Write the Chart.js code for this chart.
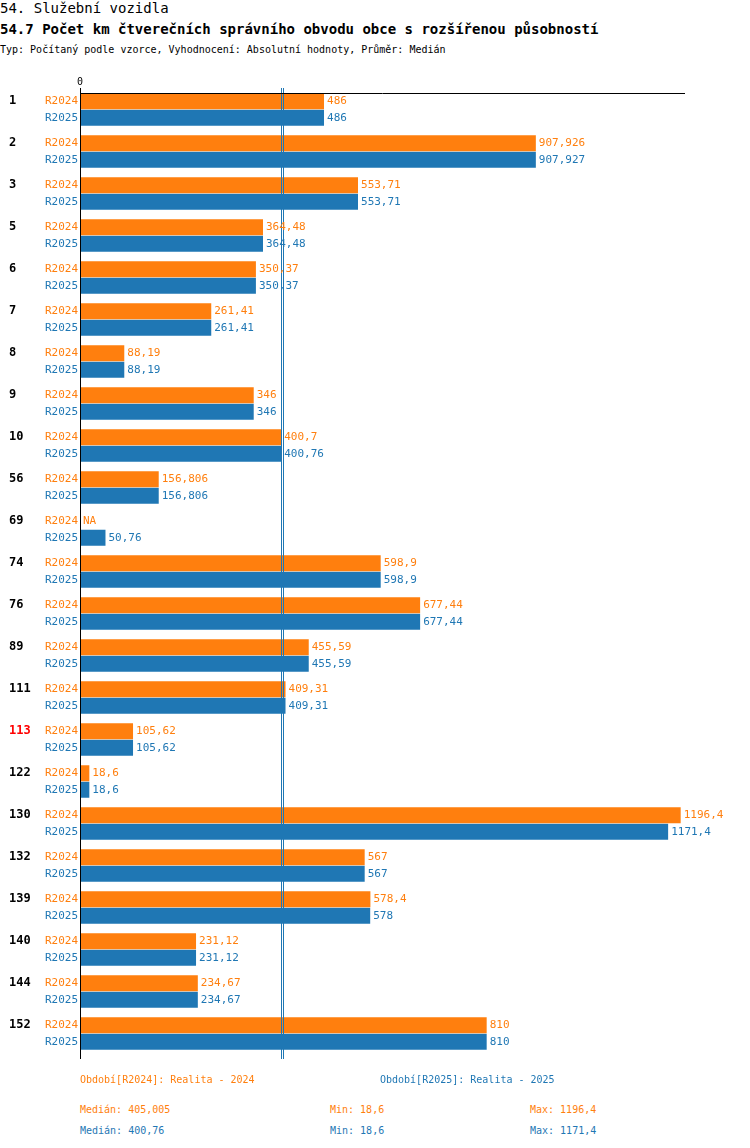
<!DOCTYPE html>
<html><head><meta charset="utf-8">
<script src="https://cdn.jsdelivr.net/npm/chart.js@4/dist/chart.umd.min.js"></script>
<style>
body{margin:0;width:750px;height:1148px;position:relative;font-family:"DejaVu Sans Mono",monospace;background:#fff}
.t{position:absolute;white-space:nowrap}
#wrap{position:absolute;left:0;top:75px;width:750px;height:1000px}
.o{color:#ff7f0e}.b{color:#1f77b4}
</style></head><body>
<div class="t" style="left:0;top:0;font-size:14px">54. Služební vozidla</div>
<div class="t" style="left:0;top:21px;font-size:14px;font-weight:bold">54.7 Počet km čtverečních správního obvodu obce s rozšířenou působností</div>
<div class="t" style="left:0;top:44px;font-size:10px">Typ: Počítaný podle vzorce, Vyhodnocení: Absolutní hodnoty, Průměr: Medián</div>
<div id="wrap"><canvas id="c"></canvas></div>
<div class="t o" style="left:80px;top:1074px;font-size:10px">Období[R2024]: Realita - 2024</div>
<div class="t b" style="left:380px;top:1074px;font-size:10px">Období[R2025]: Realita - 2025</div>
<div class="t o" style="left:80px;top:1104px;font-size:10px">Medián: 405,005</div>
<div class="t o" style="left:330px;top:1104px;font-size:10px">Min: 18,6</div>
<div class="t o" style="left:530px;top:1104px;font-size:10px">Max: 1196,4</div>
<div class="t b" style="left:80px;top:1125px;font-size:10px">Medián: 400,76</div>
<div class="t b" style="left:330px;top:1125px;font-size:10px">Min: 18,6</div>
<div class="t b" style="left:530px;top:1125px;font-size:10px">Max: 1171,4</div>
<script>
const groups = ["1","2","3","5","6","7","8","9","10","56","69","74","76","89","111","113","122","130","132","139","140","144","152"];
const r2024 = [486,907.926,553.71,364.48,350.37,261.41,88.19,346,400.7,156.806,null,598.9,677.44,455.59,409.31,105.62,18.6,1196.4,567,578.4,231.12,234.67,810];
const r2025 = [486,907.927,553.71,364.48,350.37,261.41,88.19,346,400.76,156.806,50.76,598.9,677.44,455.59,409.31,105.62,18.6,1171.4,567,578,231.12,234.67,810];
const medians = [405.005, 400.76];
const highlight = "113";
const ORANGE = "#ff7f0e", BLUE = "#1f77b4";
const FONT = "\"DejaVu Sans Mono\", monospace";

function fmt(v) {
    if (v === null) return "NA";
    return String(v).replace(".", ",");
}

const deco = {
    id: "deco",
    afterDatasetsDraw(chart) {
        const ctx = chart.ctx, x = chart.scales.x, a = chart.chartArea;
        const top = a.top + 4.5, bottom = a.bottom + 4.5;
        ctx.save();
        // median lines
        ctx.strokeStyle = BLUE; ctx.lineWidth = 1;
        for (const m of medians) {
            const px = Math.round(x.getPixelForValue(m)) + 0.5;
            ctx.beginPath(); ctx.moveTo(px, top - 5); ctx.lineTo(px, bottom); ctx.stroke();
        }
        // axes
        ctx.strokeStyle = "#000";
        ctx.beginPath(); ctx.moveTo(a.left, top + 0.5); ctx.lineTo(a.right, top + 0.5); ctx.stroke();
        ctx.beginPath(); ctx.moveTo(a.left + 0.5, top - 5); ctx.lineTo(a.left + 0.5, bottom); ctx.stroke();
        ctx.fillStyle = "#000"; ctx.font = "10px " + FONT;
        ctx.textAlign = "center"; ctx.textBaseline = "bottom";
        ctx.fillText("0", a.left, top - 6);
        // labels
        const sets = [r2024, r2025], cols = [ORANGE, BLUE], names = ["R2024", "R2025"];
        ctx.textBaseline = "middle";
        for (let d = 0; d < 2; d++) {
            const meta = chart.getDatasetMeta(d);
            meta.data.forEach((bar, i) => {
                const v = sets[d][i];
                ctx.fillStyle = cols[d]; ctx.font = "11px " + FONT;
                ctx.textAlign = "right";
                ctx.fillText(names[d], 78, bar.y);
                ctx.textAlign = "left";
                const ex = v === null ? a.left + 3 : bar.x + 3;
                ctx.fillText(fmt(v), ex, bar.y);
                if (d === 0) {
                    ctx.font = "bold 12px " + FONT;
                    ctx.fillStyle = groups[i] === highlight ? "#ff0000" : "#000";
                    ctx.fillText(groups[i], 9, bar.y);
                }
            });
        }
        ctx.restore();
    }
};

new Chart(document.getElementById("c"), {
    type: "bar",
    data: {
        labels: groups,
        datasets: [
            { data: r2024, backgroundColor: ORANGE },
            { data: r2025, backgroundColor: BLUE }
        ]
    },
    options: {
        indexAxis: "y",
        responsive: true,
        maintainAspectRatio: false,
        animation: false,
        categoryPercentage: 33 / 42,
        barPercentage: 0.97,
        layout: { padding: { left: 80, right: 65, top: 13.5, bottom: 20.5 } },
        plugins: { legend: { display: false }, tooltip: { enabled: false } },
        scales: {
            x: { display: false, min: 0, max: 1205 },
            y: { display: false }
        }
    },
    plugins: [deco]
});
</script>
</body></html>
